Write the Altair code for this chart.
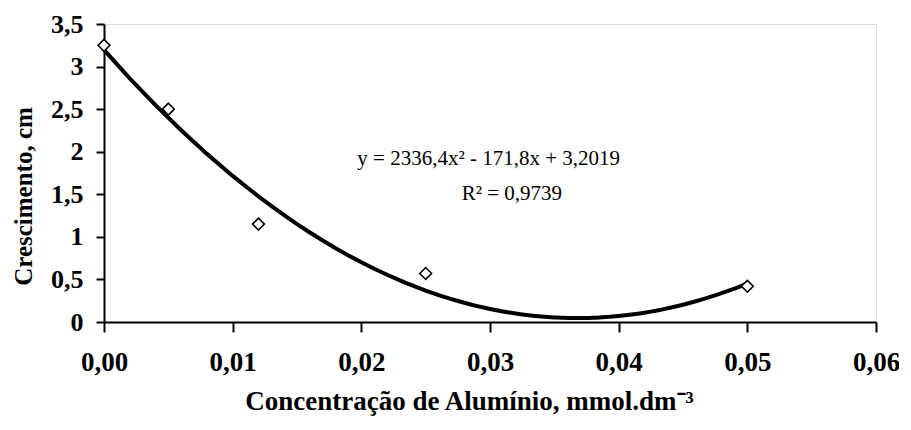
import altair as alt
import pandas as pd

conc = [0.0, 0.005, 0.012, 0.025, 0.05]
growth = [3.25, 2.5, 1.15, 0.57, 0.42]
eq_lines = ["y = 2336,4x² - 171,8x + 3,2019", "R² = 0,9739"]
eq_x = [0.0299, 0.0317]
eq_y = [1.92, 1.5]

df = pd.DataFrame({"x": conc, "y": growth})
eq = pd.DataFrame({"x": eq_x, "y": eq_y, "t": eq_lines})

FONT = "Liberation Serif"

xs = alt.Scale(domain=[0, 0.06], nice=False)
ys = alt.Scale(domain=[0, 3.5], nice=False)

xaxis = alt.Axis(
    title="Concentração de Alumínio, mmol.dm⁻³",
    values=[0, 0.01, 0.02, 0.03, 0.04, 0.05, 0.06],
    labelExpr="replace(format(datum.value, '.2f'), '.', ',')",
    grid=False, domainColor="black", tickColor="black", tickSize=10,
    domainWidth=2, tickWidth=2, labelFlush=False,
    labelFont=FONT, labelFontSize=27, labelFontWeight="bold", labelColor="black",
    labelPadding=17, titleFont=FONT, titleFontSize=27, titleFontWeight="bold",
    titleColor="black", titlePadding=13, titleX=365,
)
yaxis = alt.Axis(
    title="Crescimento, cm",
    values=[0, 0.5, 1, 1.5, 2, 2.5, 3, 3.5],
    labelExpr="replace(format(datum.value, ''), '.', ',')",
    grid=False, domainColor="black", tickColor="black", tickSize=8,
    domainWidth=2, tickWidth=2, labelFlush=False,
    labelFont=FONT, labelFontSize=26, labelFontWeight="bold", labelColor="black",
    labelPadding=13, titleFont=FONT, titleFontSize=25, titleFontWeight="bold",
    titleColor="black", titlePadding=14, titleY=172,
)

base = alt.Chart(df)

curve = base.transform_regression(
    "x", "y", method="poly", order=2, extent=[0, 0.05]
).mark_line(color="black", strokeWidth=4).encode(
    x=alt.X("x:Q", scale=xs, axis=xaxis),
    y=alt.Y("y:Q", scale=ys, axis=yaxis),
)

pts = base.mark_point(shape="diamond", filled=False, color="black",
                      fill="white", fillOpacity=1, strokeWidth=1.6, size=140).encode(
    x=alt.X("x:Q", scale=xs),
    y=alt.Y("y:Q", scale=ys),
)

txt = alt.Chart(eq).mark_text(font=FONT, fontSize=21, color="black").encode(
    x=alt.X("x:Q", scale=xs),
    y=alt.Y("y:Q", scale=ys),
    text="t:N",
)

chart = alt.layer(curve, pts, txt).properties(
    width=772, height=298,
    padding={"left": 96, "top": 16, "right": 23, "bottom": 100},
    autosize=alt.AutoSizeParams(type="none"),
).configure_view(stroke=None).configure(background="white")

chart.save("out.html", embed_options={"renderer": "svg", "actions": False})
